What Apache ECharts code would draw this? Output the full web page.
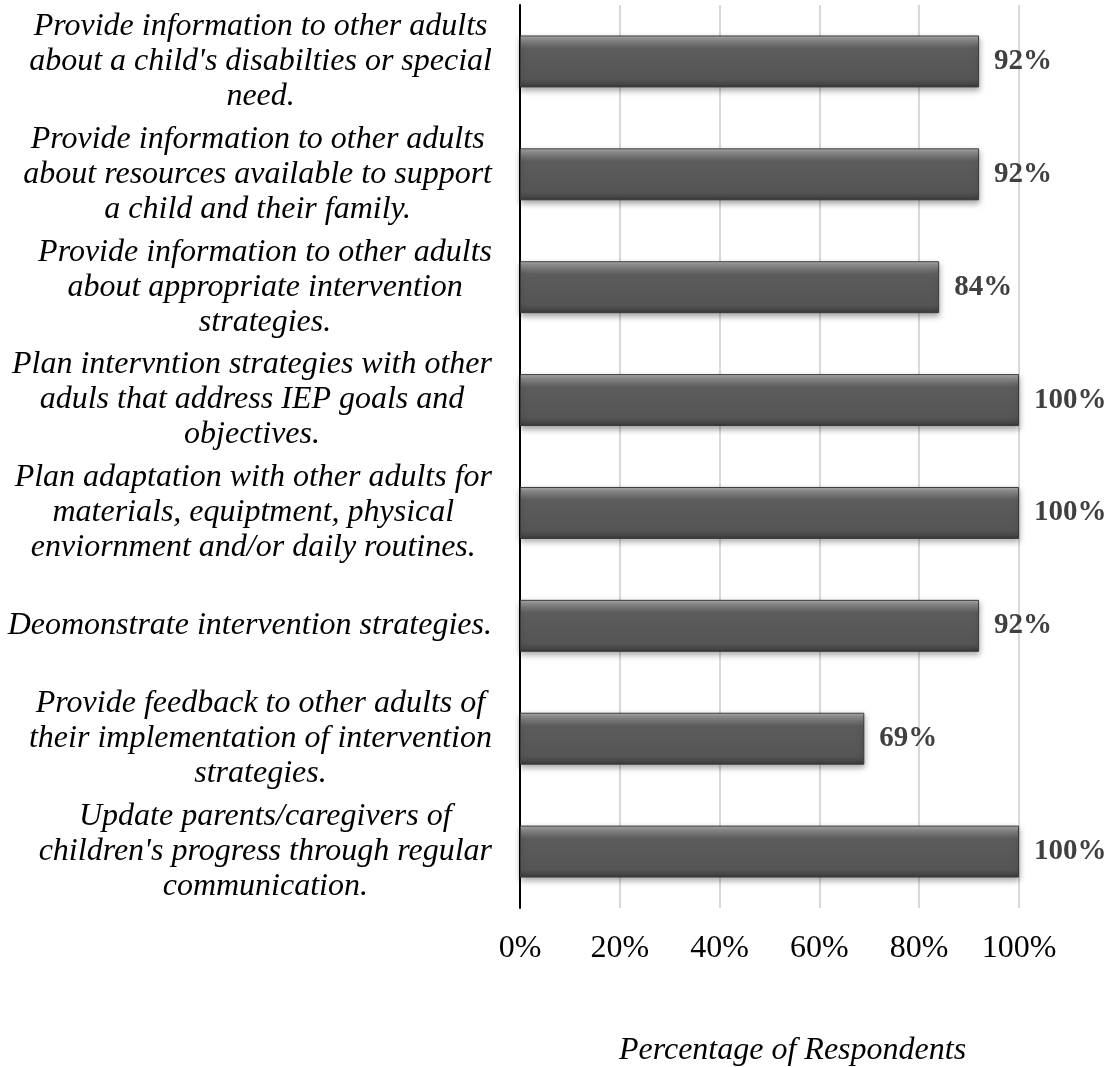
<!DOCTYPE html>
<html>
<head>
<meta charset="utf-8">
<script src="https://cdn.jsdelivr.net/npm/echarts@6/dist/echarts.min.js"></script>
<style>
  html, body { margin: 0; padding: 0; background: #ffffff; }
  #chart { width: 1112px; height: 1067px; }
</style>
</head>
<body>
<div id="chart"></div>
<script>
// Survey items, listed top to bottom
const categories = [
  "Provide information to other adults\nabout a child's disabilties or special\nneed.",
  "Provide information to other adults\nabout resources available to support\na child and their family.",
  "Provide information to other adults\nabout appropriate intervention\nstrategies.",
  "Plan intervntion strategies with other\naduls that address IEP goals and\nobjectives.",
  "Plan adaptation with other adults for\nmaterials, equiptment, physical\nenviornment and/or daily routines.",
  "Deomonstrate intervention strategies.",
  "Provide feedback to other adults of\ntheir implementation of intervention\nstrategies.",
  "Update parents/caregivers of\nchildren's progress through regular\ncommunication."
];

// Share of respondents (%)
const percentages = [92, 92, 84, 100, 100, 92, 69, 100];

const axisTitle = 'Percentage of Respondents';

const SERIF = '"Liberation Serif", "Times New Roman", serif';

const chart = echarts.init(document.getElementById('chart'));

chart.setOption({
  animation: false,
  backgroundColor: '#ffffff',
  grid: {
    left: 520,
    right: 93,
    top: 5,
    bottom: 159,
    containLabel: false,
    outerBoundsMode: 'none'
  },
  xAxis: {
    type: 'value',
    min: 0,
    max: 100,
    interval: 20,
    axisLine: { show: false },
    axisTick: { show: false },
    splitLine: { show: true, lineStyle: { color: '#d9d9d9', width: 2 } },
    axisLabel: {
      formatter: '{value}%',
      fontFamily: SERIF,
      fontSize: 32,
      color: '#000000',
      margin: 25
    },
    name: axisTitle,
    nameLocation: 'middle',
    nameGap: 127,
    nameTextStyle: {
      fontFamily: SERIF,
      fontStyle: 'italic',
      fontSize: 32,
      color: '#000000',
      padding: [0, 0, 0, 46]
    }
  },
  yAxis: {
    type: 'category',
    inverse: true,
    data: categories,
    axisLine: { show: true, lineStyle: { color: '#000000', width: 2 } },
    axisTick: { show: false },
    splitLine: { show: false },
    axisLabel: {
      margin: 28,
      align: 'right',
      formatter: function (v) {
        return v.split('\n').map(function (l) { return '{c|' + l + '}'; }).join('\n');
      },
      rich: {
        c: {
          align: 'center',
          fontFamily: SERIF,
          fontStyle: 'italic',
          fontSize: 32,
          lineHeight: 35,
          color: '#000000'
        }
      }
    }
  },
  series: [{
    type: 'bar',
    data: percentages,
    barWidth: '46%',
    itemStyle: {
      color: new echarts.graphic.LinearGradient(0, 0, 0, 1, [
        { offset: 0, color: '#b4b4b4' },
        { offset: 0.06, color: '#939393' },
        { offset: 0.17, color: '#707070' },
        { offset: 0.25, color: '#5c5c5c' },
        { offset: 0.84, color: '#555555' },
        { offset: 0.93, color: '#484848' },
        { offset: 1, color: '#363636' }
      ]),
      borderColor: '#3a3a3a',
      borderWidth: 1,
      shadowColor: 'rgba(0,0,0,0.35)',
      shadowBlur: 6,
      shadowOffsetY: 3
    },
    label: {
      show: true,
      position: 'right',
      distance: 15,
      formatter: '{c}%',
      fontFamily: SERIF,
      fontWeight: 'bold',
      fontSize: 29,
      color: '#404040'
    }
  }]
});
</script>
</body>
</html>
